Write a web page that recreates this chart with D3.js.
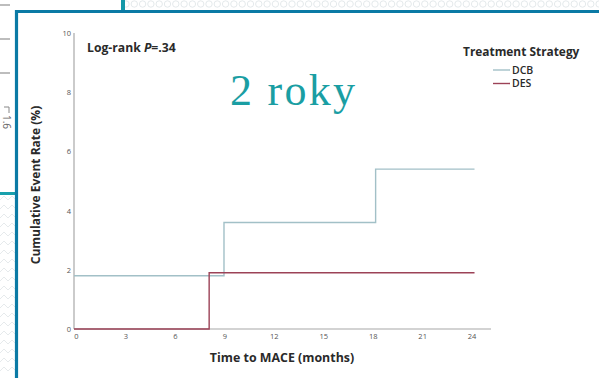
<!DOCTYPE html>
<html>
<head>
<meta charset="utf-8">
<script src="https://cdn.jsdelivr.net/npm/d3@7"></script>
<style>
  html, body { margin: 0; padding: 0; background: #ffffff; }
  svg { display: block; }
</style>
</head>
<body>
<svg id="chart" width="599" height="378"></svg>
<script>
// Kaplan–Meier style cumulative event rate, DCB vs DES, up to 24 months
const monthTicks = [0, 3, 6, 9, 12, 15, 18, 21, 24];
const rateTicks = [0, 2, 4, 6, 8, 10];
const seriesNames = ["DCB", "DES"];
const dcbMonths = [0, 9.1, 18.3, 24.3];
const dcbRates = [1.8, 3.6, 5.4, 5.4];
const desMonths = [0, 8.2, 24.3];
const desRates = [0, 1.9, 1.9];
const seriesColors = ["#a2c0c7", "#9c4257"];

const svg = d3.select("#chart");

// ---- slide frame and background pieces ----
const deco = svg.append("g");
// dotted strip along the top
const dots = d3.range(126, 600, 8.3);
deco.selectAll("circle.dot").data(dots).join("circle")
  .attr("cx", d => d).attr("cy", 4).attr("r", 3.2)
  .attr("fill", "none").attr("stroke", "#dde3e6").attr("stroke-width", 0.8);
deco.append("rect").attr("x", 121).attr("y", 0).attr("width", 4).attr("height", 11).attr("fill", "#1598a8");
// zig-zag texture at the lower left
const zz = d3.range(200, 378, 9);
zz.forEach(y => {
  deco.append("path")
    .attr("d", `M0,${y} l4,-4 l4,4 l4,-4 l4,4`)
    .attr("fill", "none").attr("stroke", "#e6eaec").attr("stroke-width", 1);
});
deco.append("rect").attr("x", 0).attr("y", 192).attr("width", 16).attr("height", 3).attr("fill", "#18a0ac");
[5, 39, 73].forEach(y => {
  deco.append("line").attr("x1", 0).attr("x2", 10).attr("y1", y).attr("y2", y)
    .attr("stroke", "#9a9a9a").attr("stroke-width", 1.3);
});
deco.append("path").attr("d", "M4,107 L9,107 L9,113").attr("fill", "none").attr("stroke", "#888").attr("stroke-width", 1);
deco.append("text").attr("transform", "translate(3,122) rotate(90)")
  .attr("text-anchor", "middle").attr("font-family", "Open Sans, sans-serif")
  .attr("font-size", 10).attr("fill", "#666").text("1.6");
// white panel with blue border
deco.append("rect").attr("x", 17).attr("y", 12).attr("width", 600).attr("height", 380).attr("fill", "#ffffff");
deco.append("path").attr("d", "M16.5,378 L16.5,11.5 L599,11.5")
  .attr("fill", "none").attr("stroke", "#0b7aa5").attr("stroke-width", 3.2);

// ---- scales ----
const x = d3.scaleLinear().domain([0, 25.3]).range([74, 491]);
const y = d3.scaleLinear().domain([0, 10]).range([329, 33]);

const font = "Open Sans, sans-serif";

// axes
const xAxis = svg.append("g").attr("transform", `translate(0,${y(0)})`)
  .call(d3.axisBottom(x).tickValues(monthTicks).tickSize(0).tickPadding(5));
const yAxis = svg.append("g").attr("transform", `translate(${x(0)},0)`)
  .call(d3.axisLeft(y).tickValues(rateTicks).tickSize(0).tickPadding(3));
[xAxis, yAxis].forEach(g => {
  g.select(".domain").attr("stroke", "#a8a8a8").attr("stroke-width", 1.2);
  g.selectAll("text").attr("font-family", font).attr("font-size", 7.5).attr("fill", "#555");
});
xAxis.selectAll(".tick text").attr("dx", 2);
xAxis.select(".domain").attr("d", `M${x(0)},0H${x(25.3)}`);
yAxis.select(".domain").attr("d", `M0,${y(10)}V${y(0)}`);

// step lines
const stepLine = d3.line().x(d => x(d[0])).y(d => y(d[1])).curve(d3.curveStepAfter);
const series = [
  d3.zip(dcbMonths, dcbRates),
  d3.zip(desMonths, desRates)
];
svg.append("g").selectAll("path").data(series).join("path")
  .attr("d", stepLine)
  .attr("fill", "none")
  .attr("stroke", (d, i) => seriesColors[i])
  .attr("stroke-width", 1.4);

// axis titles
svg.append("text").attr("x", 282).attr("y", 362).attr("text-anchor", "middle")
  .attr("font-family", font).attr("font-weight", 700).attr("font-size", 12.4).attr("fill", "#2a2a2a")
  .text("Time to MACE (months)");
svg.append("text").attr("transform", "translate(40,185) rotate(-90)").attr("text-anchor", "middle")
  .attr("font-family", font).attr("font-weight", 700).attr("font-size", 12).attr("fill", "#2a2a2a")
  .text("Cumulative Event Rate (%)");

// log-rank annotation
const lr = svg.append("text").attr("x", 87).attr("y", 52)
  .attr("font-family", font).attr("font-weight", 700).attr("font-size", 12.2).attr("fill", "#2a2a2a");
lr.append("tspan").text("Log-rank ");
lr.append("tspan").attr("font-style", "italic").text("P");
lr.append("tspan").text("=.34");

// legend
svg.append("text").attr("x", 463).attr("y", 56)
  .attr("font-family", font).attr("font-weight", 700).attr("font-size", 11.9).attr("fill", "#2a2a2a")
  .text("Treatment Strategy");
const legend = svg.append("g").selectAll("g").data(seriesNames).join("g")
  .attr("transform", (d, i) => `translate(493,${70 + i * 13.5})`);
legend.append("line").attr("x1", 0).attr("x2", 17).attr("y1", 0).attr("y2", 0)
  .attr("stroke", (d, i) => seriesColors[i]).attr("stroke-width", 1.4);
legend.append("text").attr("x", 19).attr("y", 3.8)
  .attr("font-family", font).attr("font-weight", 600).attr("font-size", 10.5).attr("fill", "#2a2a2a")
  .text(d => d);

// slide caption
svg.append("text").attr("x", 230).attr("y", 105)
  .attr("font-family", "Liberation Serif, serif").attr("font-size", 44).attr("fill", "#1a9ea3")
  .attr("textLength", 125).attr("lengthAdjust", "spacing")
  .text("2 roky");
</script>
</body>
</html>
